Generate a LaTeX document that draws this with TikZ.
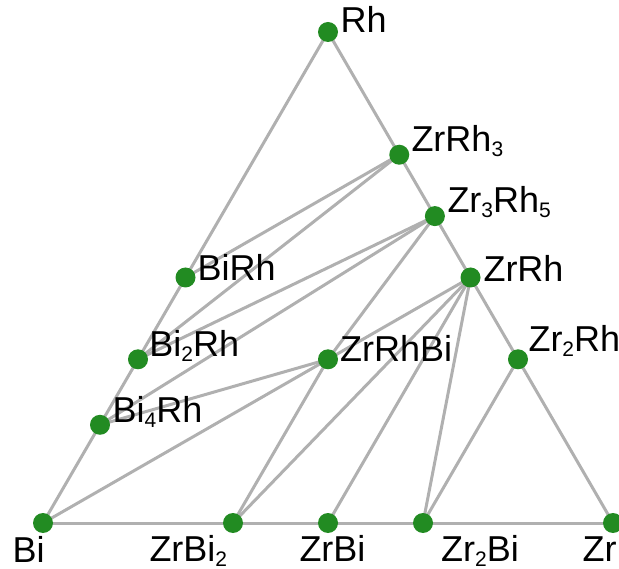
\documentclass[tikz,border=0pt]{standalone}
\usepackage{fontspec}
\setmainfont{Liberation Sans}
\newcommand\sbs[1]{\raisebox{-5pt}{\fontsize{21}{21}\selectfont #1}}
\definecolor{edgegray}{RGB}{176,176,176}
\definecolor{dotgreen}{RGB}{34,139,34}
\tikzset{
  tie/.style={draw=edgegray, line width=3pt},
  dot/.style={circle, fill=dotgreen, minimum size=20pt, inner sep=0pt},
  lab/.style={anchor=base west, inner sep=0pt, font=\fontsize{36}{42}\selectfont}
}
\begin{document}
\begin{tikzpicture}[x=1pt, y=-1pt]
\clip (0,0) rectangle (619,569);
% phase positions
\coordinate (Rh) at (328,32);
\coordinate (ZrRh3) at (399.25,154.75);
\coordinate (Zr3Rh5) at (434.9,216.1);
\coordinate (ZrRh) at (470.5,277.5);
\coordinate (Zr2Rh) at (518,359.3);
\coordinate (BiRh) at (185.5,277.5);
\coordinate (Bi2Rh) at (138,359.3);
\coordinate (Bi4Rh) at (100,424.8);
\coordinate (ZrRhBi) at (328,359.3);
\coordinate (Bi) at (43,523);
\coordinate (ZrBi2) at (233,523);
\coordinate (ZrBi) at (328,523);
\coordinate (Zr2Bi) at (423,523);
\coordinate (Zr) at (613,523);
% tie lines
\draw[tie] (Rh) -- (Bi);
\draw[tie] (Rh) -- (Zr);
\draw[tie] (Bi) -- (Zr);
\draw[tie] (ZrRh3) -- (BiRh);
\draw[tie] (ZrRh3) -- (Bi2Rh);
\draw[tie] (Zr3Rh5) -- (Bi2Rh);
\draw[tie] (Zr3Rh5) -- (Bi4Rh);
\draw[tie] (Zr3Rh5) -- (ZrRhBi);
\draw[tie] (ZrRhBi) -- (Bi4Rh);
\draw[tie] (ZrRhBi) -- (Bi);
\draw[tie] (ZrRhBi) -- (ZrBi2);
\draw[tie] (ZrRh) -- (ZrRhBi);
\draw[tie] (ZrRh) -- (ZrBi2);
\draw[tie] (ZrRh) -- (ZrBi);
\draw[tie] (ZrRh) -- (Zr2Bi);
\draw[tie] (Zr2Rh) -- (Zr2Bi);
% dots
\foreach \p in {Rh,ZrRh3,Zr3Rh5,ZrRh,Zr2Rh,BiRh,Bi2Rh,Bi4Rh,ZrRhBi,Bi,ZrBi2,ZrBi,Zr2Bi,Zr}
  \node[dot] (\p-dot) at (\p) {};
% labels
\node[lab] (Rh-l) at (340.5,33) {Rh};
\node[lab] (ZrRh3-l) at (411.3,152) {ZrRh\sbs{3}};
\node[lab] (Zr3Rh5-l) at (447.3,213) {Zr\sbs{3}Rh\sbs{5}};
\node[lab] (ZrRh-l) at (483.3,282) {ZrRh};
\node[lab] (Zr2Rh-l) at (528.3,352) {Zr\sbs{2}Rh};
\node[lab] (BiRh-l) at (197.5,281) {BiRh};
\node[lab] (Bi2Rh-l) at (149.2,357) {Bi\sbs{2}Rh};
\node[lab] (Bi4Rh-l) at (112.5,422.5) {Bi\sbs{4}Rh};
\node[lab] (ZrRhBi-l) at (340,362) {ZrRhBi};
\node[lab] (Bi-l) at (12.5,562.5) {Bi};
\node[lab] (ZrBi2-l) at (149.3,561.5) {ZrBi\sbs{2}};
\node[lab] (ZrBi-l) at (299.3,561.5) {ZrBi};
\node[lab] (Zr2Bi-l) at (441,561.5) {Zr\sbs{2}Bi};
\node[lab] (Zr-l) at (582.3,561.5) {Zr};
\end{tikzpicture}
\end{document}
